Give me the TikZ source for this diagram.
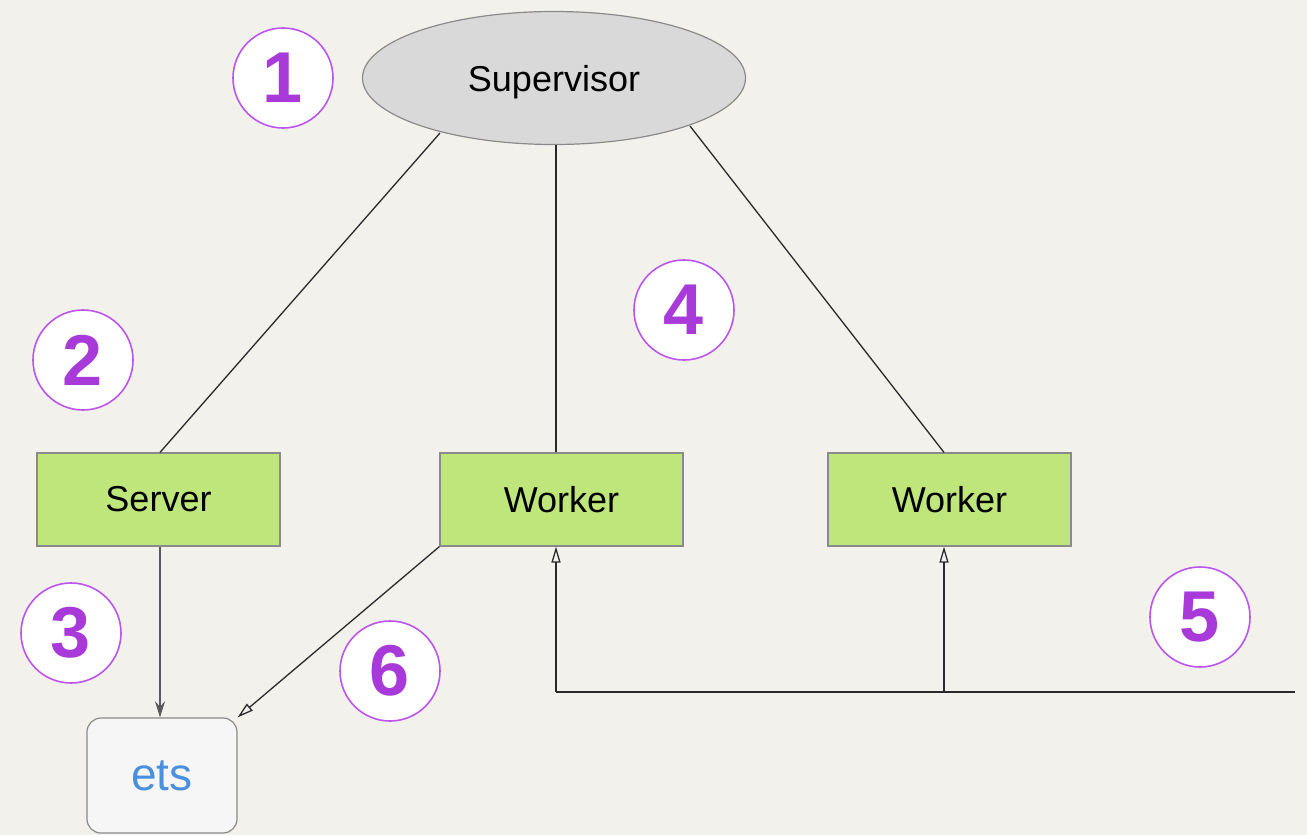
\documentclass[tikz,border=0pt]{standalone}
\usepackage{fontspec}
\setmainfont{Liberation Sans}
\usetikzlibrary{shapes.geometric,arrows.meta}
\definecolor{bg}{HTML}{F3F1EC}
\definecolor{boxgreen}{HTML}{BFE67A}
\definecolor{boxedge}{HTML}{8A8A8A}
\definecolor{supfill}{HTML}{D9D9D9}
\definecolor{numpurple}{HTML}{A73AD8}
\definecolor{ringpurple}{HTML}{BC55EC}
\definecolor{etsblue}{HTML}{4A8FE0}
\definecolor{etsfill}{HTML}{F6F6F6}
\definecolor{linecol}{HTML}{2A2A2A}
\tikzset{
  numcircle/.style={circle, draw=ringpurple, line width=1.6pt, fill=white, minimum size=100pt, inner sep=0pt,
    text=numpurple, font=\fontsize{72}{72}\selectfont\bfseries},
  greenbox/.style={rectangle, draw=boxedge, line width=1.2pt, fill=boxgreen, minimum width=243pt, minimum height=93pt,
    inner sep=0pt, font=\fontsize{36}{36}\selectfont},
  conn/.style={draw=linecol, line width=1.3pt},
  openarrow/.style={-{Triangle[open, length=16pt, width=9pt]}},
  filledarrow/.style={-{Stealth[length=16pt, width=10pt]}}
}
\begin{document}
\begin{tikzpicture}[x=1pt,y=-1pt]
\fill[bg] (0,0) rectangle (1307,835);
\useasboundingbox (0,0) rectangle (1307,835);

\node[ellipse, draw=boxedge, line width=1.2pt, fill=supfill, minimum width=383pt, minimum height=133pt, inner sep=0pt,
  text depth=0pt, font=\fontsize{36}{36}\selectfont] (sup) at (554,78) {Supervisor};

\node[greenbox] (server) at (158.5,499.5) {Server};
\node[greenbox] (w1) at (561.5,499.5) {Worker};
\node[greenbox] (w2) at (949.5,499.5) {Worker};

\node[rectangle, rounded corners=14pt, draw=boxedge, line width=1.2pt, fill=etsfill, minimum width=150pt, minimum height=115pt,
  inner sep=0pt, text=etsblue, font=\fontsize{46}{46}\selectfont] (ets) at (162,775.5) {ets};

\node[numcircle] (n1) at (283,78) {1};
\node[numcircle] (n2) at (83,360) {2};
\node[numcircle] (n3) at (71,633) {3};
\node[numcircle] (n4) at (684,310) {4};
\node[numcircle] (n5) at (1200,617) {5};
\node[numcircle] (n6) at (390,671) {6};

% supervisor links
\coordinate (s1) at (440,133);
\coordinate (s3) at (690,126);
\draw[conn] (s1) -- (server.north -| 160,0);
\draw[conn] (sup.south -| 556,0) -- (w1.north -| 556,0);
\draw[conn] (s3) -- (w2.north -| 944,0);

% server to ets
\draw[conn, draw=gray!70!black, filledarrow] (server.south -| 160,0) -- (ets.north -| 160,0);
% worker to ets
\draw[conn, openarrow] (w1.south west) -- (ets.north east);

% feed line
\coordinate (feedL) at (556,692);
\coordinate (feedM) at (944,692);
\coordinate (feedR) at (1295,692);
\draw[conn] (feedL) -- (feedR);
\draw[conn, openarrow] (feedL) -- (w1.south -| feedL);
\draw[conn, openarrow] (feedM) -- (w2.south -| feedM);
\end{tikzpicture}
\end{document}
